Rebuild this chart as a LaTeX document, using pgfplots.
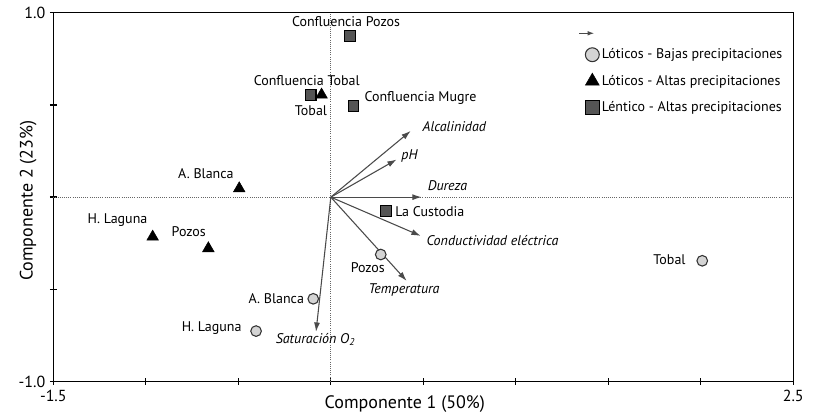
\documentclass[border=0pt]{standalone}
\usepackage{pgfplots}
\pgfplotsset{compat=1.18}
\usepackage{fontspec}
\setmainfont{PT Sans}
\usetikzlibrary{arrows.meta}

\definecolor{arrowgray}{HTML}{4A4A4A}
\definecolor{sqgray}{HTML}{555555}
\definecolor{cigray}{HTML}{D4D4D4}

% variable loadings (arrow tips)
\pgfplotstableread{
x y u v
0 0 0.432 0.359
0 0 0.356 0.204
0 0 0.491 0.000
0 0 0.486 -0.210
0 0 0.410 -0.454
0 0 -0.080 -0.730
}\loadings

% Loticos - bajas precipitaciones
\pgfplotstableread{
x y
0.270 -0.311
-0.095 -0.551
-0.404 -0.726
2.008 -0.345
}\lotbajas

% Loticos - altas precipitaciones
\pgfplotstableread{
x y
-0.050 0.555
-0.495 0.047
-0.963 -0.215
-0.662 -0.278
}\lotaltas

% Lentico - altas precipitaciones
\pgfplotstableread{
x y
0.104 0.874
-0.109 0.553
0.122 0.493
0.297 -0.074
}\lentaltas

\begin{document}
\begin{tikzpicture}
\path[use as bounding box] (-40pt,-28.7pt) rectangle (578.8pt,286.25pt);
\begin{axis}[
    scale only axis,
    width=555pt, height=276.75pt,
    xmin=-1.5, xmax=2.5, ymin=-1, ymax=1,
    axis line style={line width=1.1pt},
    xtick={-1.5,-1,...,2.5},
    xticklabels={-1.5,{},{},{},{},{},{},{},2.5},
    ytick={-1,-0.5,0,0.5,1},
    yticklabels={-1.0,{},{},{},1.0},
    xtick pos=bottom, ytick pos=left,
    tick align=center,
    major tick length=5pt,
    tick style={line width=1pt, black},
    ticklabel style={font=\fontsize{12}{14}\selectfont},
    xlabel={Componente 1 (50\%)},
    ylabel={Componente 2 (23\%)},
    label style={font=\fontsize{13.5}{16}\selectfont},
    xlabel style={at={(axis description cs:0.475,0)}, anchor=north, yshift=-7pt},
    ylabel style={at={(axis description cs:0,0.49)}, anchor=south, yshift=9pt},
    legend style={draw=none, fill=none, at={(axis description cs:0.704,0.962)},
        anchor=north west, font=\fontsize{10.5}{12}\selectfont,
        row sep=6.8pt, cells={anchor=west}},
    legend cell align=left,
    clip=false,
]
% dotted reference lines
\addplot[forget plot, densely dotted, line width=0.6pt, gray!80!black]
    coordinates {(-1.5,0) (2.5,0)};
\addplot[forget plot, densely dotted, line width=0.6pt, gray!80!black]
    coordinates {(0,-1) (0,1)};

\addplot[arrowgray, line width=0.8pt, no marks,
    -{Latex[length=7pt,width=4.5pt]},
    quiver={u=\thisrow{u}, v=\thisrow{v}},
    legend image code/.code={\draw[arrowgray, line width=0.8pt,
        -{Latex[length=5pt,width=3.5pt]}] (-0.05cm,0cm) -- (0.35cm,0cm);}]
    table {\loadings};
\addlegendentry{}

\addplot[only marks, mark=*, mark size=4pt,
    mark options={fill=cigray, draw=black!80, line width=0.8pt},
    legend image post style={mark size=5.2pt}]
    table {\lotbajas};
\addlegendentry{Lóticos - Bajas precipitaciones}

\addplot[only marks, mark=triangle*, mark size=5pt,
    mark options={fill=black, draw=black},
    legend image post style={mark size=6pt}]
    table {\lotaltas};
\addlegendentry{Lóticos - Altas precipitaciones}

\addplot[only marks, mark=square*, mark size=4pt,
    mark options={fill=sqgray, draw=black, line width=0.8pt},
    legend image post style={mark size=5.2pt}]
    table {\lentaltas};
\addlegendentry{Léntico - Altas precipitaciones}

% labels
\begin{scope}[every node/.style={font=\fontsize{10.5}{12}\selectfont, inner sep=0pt}]
\node at (axis cs:0.082,0.949) {Confluencia Pozos};
\node at (axis cs:-0.130,0.634) {Confluencia Tobal};
\node at (axis cs:-0.107,0.466) {Tobal};
\node[anchor=west] at (axis cs:0.181,0.540) {Confluencia Mugre};
\node at (axis cs:-0.675,0.130) {A. Blanca};
\node at (axis cs:-1.153,-0.125) {H. Laguna};
\node at (axis cs:-0.768,-0.188) {Pozos};
\node at (axis cs:-0.295,-0.551) {A. Blanca};
\node at (axis cs:-0.644,-0.712) {H. Laguna};
\node at (axis cs:0.200,-0.383) {Pozos};
\node[anchor=west] at (axis cs:0.347,-0.080) {La Custodia};
\node at (axis cs:1.831,-0.341) {Tobal};
\node at (axis cs:0.668,0.381) {\itshape Alcalinidad};
\node at (axis cs:0.425,0.222) {\itshape pH};
\node at (axis cs:0.631,0.065) {\itshape Dureza};
\node at (axis cs:0.874,-0.233) {\itshape Conductividad eléctrica};
\node at (axis cs:0.396,-0.504) {\itshape Temperatura};
\node at (axis cs:-0.083,-0.771) {\itshape Saturación O\textsubscript{2}};
\end{scope}
\end{axis}
\end{tikzpicture}
\end{document}
